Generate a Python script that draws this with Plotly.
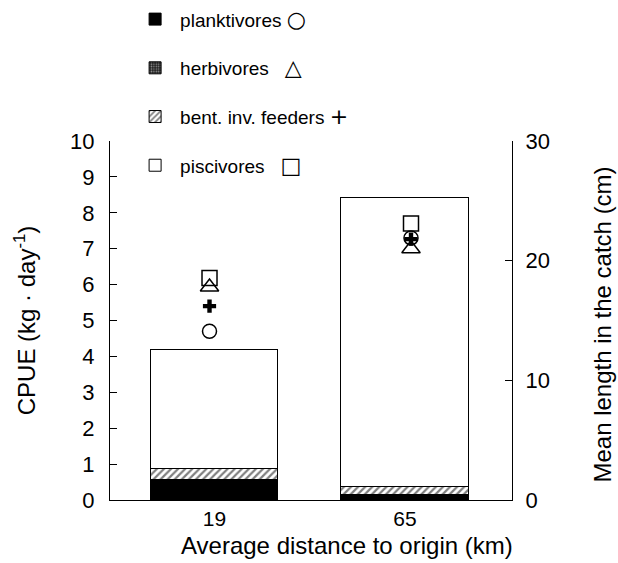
import plotly.graph_objects as go

# ---- data ----
distance_labels = ["19", "65"]
distance_km = [19, 65]
groups = ["planktivores", "herbivores", "bent. inv. feeders", "piscivores"]
cpue_planktivores = [0.56, 0.14]
cpue_herbivores = [0.0, 0.0]
cpue_bent = [0.30, 0.21]
cpue_piscivores = [3.32, 8.05]
len_planktivores = [14.1, 21.9]
len_herbivores = [17.8, 21.0]
len_bent = [16.2, 21.8]
len_piscivores = [18.55, 23.1]
legend_glyphs = ["○", "△", "+", "□"]
legend_pad = [" ", "   ", " ", "   "]

FONT = "Liberation Sans, Arial, sans-serif"
fig = go.Figure()

bar_styles = [
    dict(color="black", pattern=dict(shape="")),
    dict(color="#222", pattern=dict(shape=".", fgcolor="white", bgcolor="#222", solidity=0.3, size=3)),
    dict(color="white", pattern=dict(shape="/", fgcolor="black", bgcolor="white", solidity=0.45, size=5)),
    dict(color="white", pattern=dict(shape="")),
]
cpue = [cpue_planktivores, cpue_herbivores, cpue_bent, cpue_piscivores]
for i, (g, vals, st) in enumerate(zip(groups, cpue, bar_styles)):
    label = (g + legend_pad[i] +
             '<span style="font-size:22px;font-family:DejaVu Sans">' +
             legend_glyphs[i] + "</span>")
    fig.add_trace(go.Bar(
        x=distance_labels, y=vals, name=label,
        legendgroup=g, width=0.667,
        marker=dict(color=st["color"], pattern=st["pattern"],
                    line=dict(color="black", width=1)),
        xaxis="x", yaxis="y",
    ))

lens = [len_planktivores, len_herbivores, len_bent, len_piscivores]
symbols = ["circle-open", "triangle-up-open", "cross", "square-open"]
sizes = [14, 16, 11, 15]
for g, vals, sym, sz in zip(groups, lens, symbols, sizes):
    fig.add_trace(go.Scatter(
        x=distance_km, y=vals, mode="markers", showlegend=False,
        marker=dict(symbol=sym, size=sz, color="black",
                    line=dict(color="black", width=1.5 if "open" in sym else 0)),
        xaxis="x2", yaxis="y2", cliponaxis=False,
    ))

fig.update_layout(
    width=618, height=563,
    margin=dict(l=110, r=106, t=141, b=63, autoexpand=False),
    paper_bgcolor="white", plot_bgcolor="white",
    barmode="stack", bargap=0,
    font=dict(family=FONT, color="black"),
    xaxis=dict(
        type="category", range=[-0.5486, 1.5617],
        showline=True, linecolor="black", linewidth=1,
        ticks="", showgrid=False, zeroline=False,
        tickfont=dict(size=21), ticklabelstandoff=0,
    ),
    xaxis2=dict(overlaying="x", range=[-3.72, 88.06], visible=False),
    yaxis=dict(
        range=[0, 10], dtick=1, showline=True, linecolor="black", linewidth=1,
        ticks="inside", ticklen=7, tickcolor="black", showgrid=False,
        zeroline=False, tickfont=dict(size=22), ticklabelstandoff=10,
    ),
    yaxis2=dict(
        overlaying="y", side="right", anchor="x", range=[0, 30], dtick=10,
        showline=True, linecolor="black", linewidth=1,
        ticks="inside", ticklen=7, tickcolor="black", showgrid=False,
        zeroline=False, tickfont=dict(size=22), ticklabelstandoff=8,
    ),
    legend=dict(
        x=0.05, y=1.392, xanchor="left", yanchor="top",
        traceorder="grouped", tracegroupgap=21,
        font=dict(size=19, family=FONT), bgcolor="rgba(0,0,0,0)",
        itemwidth=40,
    ),
    annotations=[
        dict(text="Average distance to origin (km)", xref="paper", yref="paper",
             x=0.59, y=-0.128, xanchor="center", yanchor="middle",
             showarrow=False, font=dict(size=24)),
        dict(text="CPUE (kg · day<sup>-1</sup>)", xref="paper", yref="paper",
             x=-0.212, y=0.5, xanchor="center", yanchor="middle", textangle=-90,
             showarrow=False, font=dict(size=24)),
        dict(text="Mean length in the catch (cm)", xref="paper", yref="paper",
             x=1.225, y=0.49, xanchor="center", yanchor="middle", textangle=-90,
             showarrow=False, font=dict(size=24)),
    ],
)

fig.write_html("out.html")
